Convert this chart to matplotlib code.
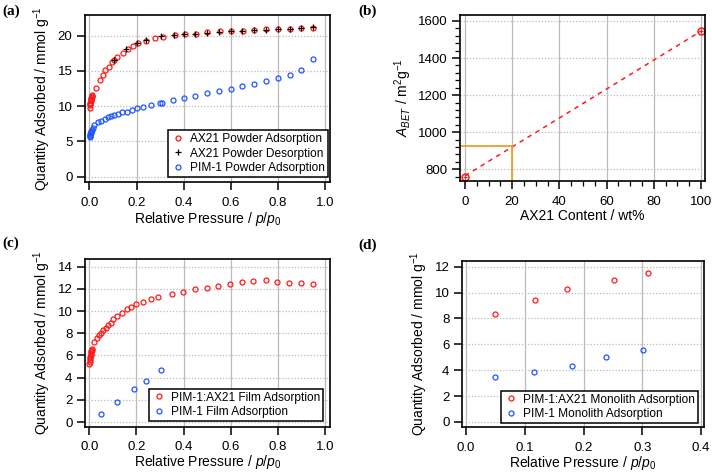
import numpy as np
import matplotlib
matplotlib.use("Agg")
import matplotlib.pyplot as plt
from matplotlib.ticker import MultipleLocator

plt.rcParams['font.family'] = ['Liberation Sans', 'DejaVu Sans']
plt.rcParams['mathtext.fontset'] = 'custom'
plt.rcParams['mathtext.rm'] = 'Liberation Sans'
plt.rcParams['mathtext.it'] = 'Liberation Sans:italic'

# =====================================================
# DATOS
# =====================================================

# (a) AX21 polvo, adsorcion
ax21_ads_p = [0.001, 0.002, 0.003, 0.004, 0.005, 0.006, 0.007, 0.008, 0.009, 0.010, 0.012,
              0.028, 0.043, 0.057, 0.068, 0.081, 0.095, 0.106, 0.119, 0.142, 0.163, 0.184,
              0.206, 0.241, 0.277, 0.312, 0.362, 0.404, 0.454, 0.50, 0.553, 0.60, 0.652,
              0.70, 0.75, 0.80, 0.85, 0.90, 0.95]
ax21_ads_q = [9.8, 10.1, 10.3, 10.5, 10.7, 10.9, 11.0, 11.1, 11.3, 11.4, 11.6,
              12.6, 13.7, 14.4, 15.1, 15.6, 16.2, 16.5, 17.0, 17.5, 18.1, 18.5,
              18.9, 19.3, 19.6, 19.8, 20.1, 20.2, 20.3, 20.5, 20.6, 20.6, 20.7,
              20.8, 20.9, 20.95, 21.0, 21.05, 21.1]

# (a) AX21 polvo, desorcion
ax21_des_p = [0.95, 0.90, 0.85, 0.80, 0.75, 0.70, 0.65, 0.60, 0.55, 0.50, 0.45, 0.40,
              0.36, 0.305, 0.241, 0.204, 0.156, 0.106]
ax21_des_q = [21.2, 21.1, 21.0, 20.9, 20.85, 20.75, 20.7, 20.6, 20.5, 20.4, 20.3, 20.2,
              20.1, 19.9, 19.4, 19.0, 18.06, 16.5]

# (a) PIM-1 polvo, adsorcion
pim_pow_p = [0.001, 0.002, 0.003, 0.004, 0.005, 0.006, 0.008, 0.010, 0.014,
             0.021, 0.035, 0.05, 0.064, 0.078, 0.092, 0.106, 0.12, 0.139, 0.16, 0.18,
             0.20, 0.227, 0.262, 0.298, 0.31, 0.355, 0.40, 0.45, 0.50, 0.55, 0.60,
             0.65, 0.70, 0.75, 0.80, 0.85, 0.90, 0.95]
pim_pow_q = [5.6, 5.75, 5.9, 6.0, 6.15, 6.3, 6.45, 6.6, 6.9,
             7.35, 7.7, 7.96, 8.16, 8.45, 8.6, 8.77, 8.9, 9.1, 9.24, 9.5,
             9.7, 9.85, 10.1, 10.4, 10.45, 10.87, 11.2, 11.5, 11.8, 12.2, 12.5,
             12.86, 13.2, 13.6, 14.0, 14.4, 15.1, 16.7]

# (b) area BET vs contenido de AX21
bet_wt = [0, 100]
bet_area = [760, 1546]
fit_wt = [0, 100]
fit_area = [765, 1545]
mix_wt = 20
mix_area = 927

# (c) peliculas
film_mix_p = [0.001, 0.002, 0.003, 0.004, 0.005, 0.006, 0.007, 0.008, 0.009, 0.010, 0.012,
              0.021, 0.031, 0.041, 0.05, 0.059, 0.07, 0.08, 0.092, 0.102, 0.119, 0.137,
              0.158, 0.177, 0.198, 0.229, 0.262, 0.293, 0.349, 0.396, 0.448, 0.498,
              0.547, 0.597, 0.646, 0.696, 0.748, 0.798, 0.849, 0.898, 0.948]
film_mix_q = [5.2, 5.4, 5.6, 5.75, 5.9, 6.0, 6.15, 6.3, 6.4, 6.5, 6.6,
              7.2, 7.6, 7.84, 8.05, 8.26, 8.5, 8.7, 8.95, 9.25, 9.55, 9.85,
              10.15, 10.36, 10.6, 10.85, 11.05, 11.26, 11.5, 11.75, 11.96, 12.1,
              12.26, 12.47, 12.6, 12.7, 12.77, 12.65, 12.56, 12.5, 12.47]
film_pim_p = [0.048, 0.116, 0.19, 0.239, 0.303]
film_pim_q = [0.75, 1.83, 2.94, 3.72, 4.69]

# (d) monolitos
mono_mix_p = [0.049, 0.117, 0.172, 0.252, 0.31]
mono_mix_q = [8.37, 9.43, 10.25, 10.97, 11.54]
mono_pim_p = [0.05, 0.116, 0.18, 0.238, 0.302]
mono_pim_q = [3.48, 3.89, 4.3, 5.02, 5.59]

ROJO = '#ff1a1a'
AZUL = '#2255ff'
NARANJA = '#e8a32a'

ETIQ_Q = 'Quantity Adsorbed / mmol g$^{-1}$'
ETIQ_P = 'Relative Pressure / $p/p_0$'
FS_TICK = 9.5
FS_ETIQ = 10


def estilo_ejes(ax):
    # Marco completo, ticks hacia fuera, rejilla estilo Igor
    for s in ax.spines.values():
        s.set_linewidth(1.2)
    ax.tick_params(direction='out', length=6, width=1.1, labelsize=FS_TICK)
    ax.tick_params(axis='x', pad=4.5)
    ax.tick_params(axis='y', pad=3)
    ax.tick_params(which='minor', direction='out', length=3.5, width=0.9)
    ax.grid(True, axis='x', color='#bbbbbb', linewidth=0.9, linestyle='-')
    ax.grid(True, axis='y', color='#bbbbbb', linewidth=0.9, linestyle=(0, (1, 1.5)))
    ax.set_axisbelow(True)


def circulos(ax, x, y, color, label):
    ax.plot(x, y, 'o', mfc='none', mec=color, ms=3.6, mew=0.9, ls='none', label=label)


def leyenda(ax, anchor):
    leg = ax.legend(loc='lower right', bbox_to_anchor=anchor, fontsize=8.6,
                    frameon=True, fancybox=False, edgecolor='black', framealpha=1,
                    borderpad=0.25, labelspacing=0.2, handletextpad=0.4,
                    handlelength=1.2, borderaxespad=0)
    leg.get_frame().set_linewidth(1.1)


fig = plt.figure(figsize=(7.12, 4.73), dpi=100)

# ---------------- (a) ----------------
ax_a = fig.add_axes([0.1194, 0.6152, 0.3441, 0.3531])
estilo_ejes(ax_a)
circulos(ax_a, ax21_ads_p, ax21_ads_q, ROJO, 'AX21 Powder Adsorption')
ax_a.plot(ax21_des_p, ax21_des_q, '+', color='black', ms=5, mew=0.9, ls='none',
          label='AX21 Powder Desorption')
circulos(ax_a, pim_pow_p, pim_pow_q, AZUL, 'PIM-1 Powder Adsorption')
ax_a.set_xlim(-0.019, 1.022)
ax_a.set_ylim(-0.76, 22.93)
ax_a.xaxis.set_major_locator(MultipleLocator(0.2))
ax_a.yaxis.set_major_locator(MultipleLocator(5))
ax_a.xaxis.set_major_formatter(lambda v, p: f'{v:.1f}')
ax_a.set_xlabel(ETIQ_P, fontsize=FS_ETIQ, labelpad=1)
ax_a.set_ylabel(ETIQ_Q, fontsize=FS_ETIQ, labelpad=3)
leyenda(ax_a, (0.993, 0.03))

# ---------------- (b) ----------------
ax_b = fig.add_axes([0.6461, 0.6173, 0.3441, 0.351])
estilo_ejes(ax_b)
ax_b.plot(fit_wt, fit_area, color=ROJO, ls=(0, (3, 3)), lw=1.1)
ax_b.plot([-5, mix_wt], [mix_area, mix_area], color=NARANJA, lw=1.3)
ax_b.plot([mix_wt, mix_wt], [600, mix_area], color=NARANJA, lw=1.3)
ax_b.plot(bet_wt, bet_area, 'o', mfc='none', mec=ROJO, ms=5, mew=1.1, ls='none')
ax_b.plot(bet_wt, bet_area, '+', color=ROJO, ms=3, mew=0.8, ls='none')
ax_b.set_xlim(-2.1, 101.7)
ax_b.set_ylim(737, 1632)
ax_b.xaxis.set_major_locator(MultipleLocator(20))
ax_b.xaxis.set_minor_locator(MultipleLocator(5))
ax_b.yaxis.set_major_locator(MultipleLocator(200))
ax_b.yaxis.set_minor_locator(MultipleLocator(40))
ax_b.set_xlabel('AX21 Content / wt%', fontsize=FS_ETIQ, labelpad=1)
ax_b.set_ylabel('$A_{BET}$ / m$^{2}$g$^{-1}$', fontsize=FS_ETIQ, labelpad=3)

# ---------------- (c) ----------------
ax_c = fig.add_axes([0.1194, 0.0979, 0.3441, 0.3545])
estilo_ejes(ax_c)
circulos(ax_c, film_mix_p, film_mix_q, ROJO, 'PIM-1:AX21 Film Adsorption')
circulos(ax_c, film_pim_p, film_pim_q, AZUL, 'PIM-1 Film Adsorption')
ax_c.set_xlim(-0.018, 1.021)
ax_c.set_ylim(-0.42, 14.69)
ax_c.xaxis.set_major_locator(MultipleLocator(0.2))
ax_c.yaxis.set_major_locator(MultipleLocator(2))
ax_c.xaxis.set_major_formatter(lambda v, p: f'{v:.1f}')
ax_c.set_xlabel(ETIQ_P, fontsize=FS_ETIQ, labelpad=0)
ax_c.set_ylabel(ETIQ_Q, fontsize=FS_ETIQ, labelpad=3)
leyenda(ax_c, (0.971, 0.034))

# ---------------- (d) ----------------
ax_d = fig.add_axes([0.6489, 0.0973, 0.3399, 0.3509])
estilo_ejes(ax_d)
circulos(ax_d, mono_mix_p, mono_mix_q, ROJO, 'PIM-1:AX21 Monolith Adsorption')
circulos(ax_d, mono_pim_p, mono_pim_q, AZUL, 'PIM-1 Monolith Adsorption')
ax_d.set_xlim(-0.0068, 0.405)
ax_d.set_ylim(-0.39, 12.44)
ax_d.xaxis.set_major_locator(MultipleLocator(0.1))
ax_d.yaxis.set_major_locator(MultipleLocator(2))
ax_d.xaxis.set_major_formatter(lambda v, p: f'{v:.1f}')
ax_d.set_xlabel(ETIQ_P, fontsize=FS_ETIQ, labelpad=0)
ax_d.set_ylabel(ETIQ_Q, fontsize=FS_ETIQ, labelpad=3)
leyenda(ax_d, (0.975, 0.024))

# Etiquetas de panel
for x, y, t in [(0.003, 0.99, '(a)'), (0.503, 0.99, '(b)'),
                (0.003, 0.50, '(c)'), (0.503, 0.495, '(d)')]:
    fig.text(x, y, t, fontsize=11, fontweight='bold', family='Liberation Serif',
             ha='left', va='top')

fig.savefig('out.png', dpi=100)
